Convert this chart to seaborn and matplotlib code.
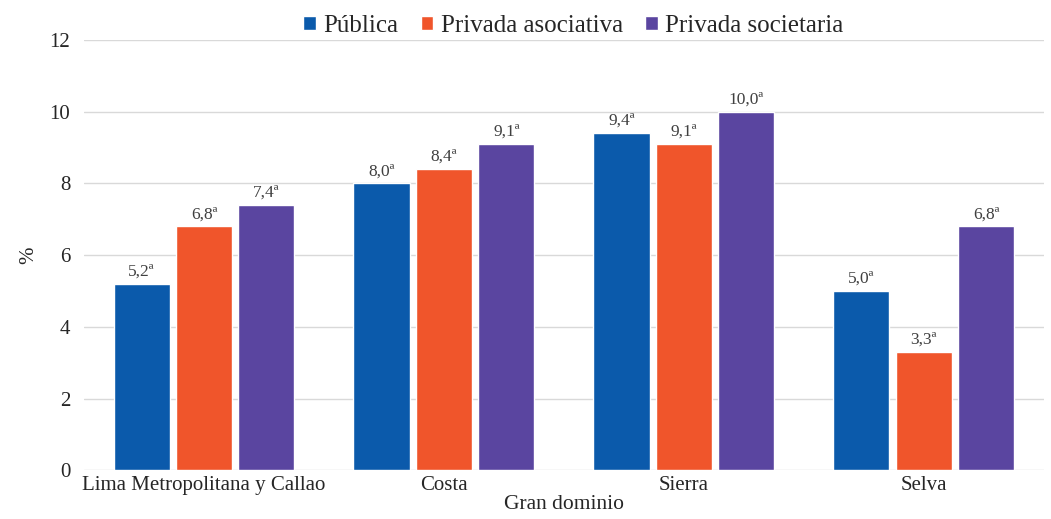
import pandas as pd
import matplotlib
matplotlib.use("Agg")
import matplotlib.pyplot as plt
import seaborn as sns

# Datos
dominios = ["Lima Metropolitana y Callao", "Costa", "Sierra", "Selva"]
series = ["Pública", "Privada asociativa", "Privada societaria"]
publica = [5.2, 8.0, 9.4, 5.0]
privada_asociativa = [6.8, 8.4, 9.1, 3.3]
privada_societaria = [7.4, 9.1, 10.0, 6.8]
colores = ["#0B5AAB", "#F0552B", "#5A45A0"]

df = pd.DataFrame({
    "dominio": dominios * 3,
    "gestion": [s for s in series for _ in dominios],
    "valor": publica + privada_asociativa + privada_societaria,
})

sns.set_theme(style="white")
plt.rcParams["font.family"] = ["Liberation Serif", "DejaVu Serif"]

fig = plt.figure(figsize=(10.51, 5.19), dpi=100)
ax = fig.add_axes([0.08, 0.094, 0.913, 0.829])

sns.barplot(data=df, x="dominio", y="valor", hue="gestion", order=dominios,
            hue_order=series, palette=colores, width=0.78, gap=0.1,
            saturation=1, ax=ax)

# Etiquetas de valor
for cont in ax.containers:
    etiquetas = [f"{b.get_height():.1f}".replace(".", ",") + "ª" for b in cont]
    ax.bar_label(cont, labels=etiquetas, padding=3, fontsize=12.5, color="#404040")

ax.set_ylim(0, 12)
ax.set_yticks(range(0, 13, 2))
ax.set_xlim(-0.5, 3.5)
ax.yaxis.grid(True, color="#d9d9d9", linewidth=1)
ax.set_axisbelow(True)
for s in ax.spines.values():
    s.set_visible(False)
ax.tick_params(axis="both", length=0, labelsize=15, colors="#262626")
ax.tick_params(axis="y", pad=10)
ax.tick_params(axis="x", pad=4)
ax.set_xlabel("Gran dominio", fontsize=15.5, color="#262626", labelpad=0)
ax.set_ylabel("%", fontsize=15, color="#262626", labelpad=8)

ax.legend(loc="upper center", bbox_to_anchor=(0.51, 1.11), ncol=3, frameon=False,
          fontsize=18, handlelength=0.5, handleheight=0.5, handletextpad=0.3,
          columnspacing=0.9)

fig.savefig("out.png", dpi=100)
